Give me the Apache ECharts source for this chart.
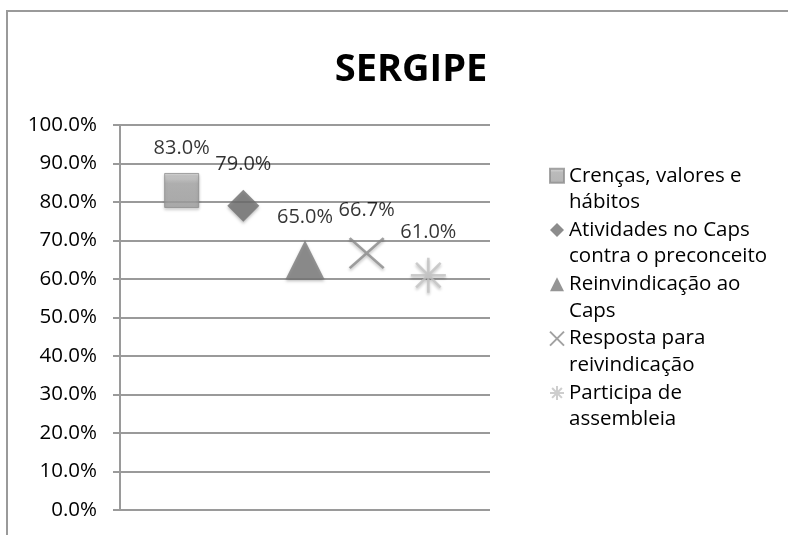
<!DOCTYPE html>
<html><head><meta charset="utf-8">
<script src="https://cdn.jsdelivr.net/npm/echarts@6/dist/echarts.min.js"></script>
<style>html,body{margin:0;padding:0;background:#fff}#c{width:788px;height:535px}</style>
</head><body><div id="c"></div>
<script>
const seriesNames = ["Crenças, valores e\nhábitos", "Atividades no Caps\ncontra o preconceito", "Reinvindicação ao\nCaps", "Resposta para\nreivindicação", "Participa de\nassembleia"];
const seriesX = [1, 2, 3, 4, 5];
const seriesValues = [0.83, 0.79, 0.65, 0.667, 0.61];
const yTicks = [0, 0.1, 0.2, 0.3, 0.4, 0.5, 0.6, 0.7, 0.8, 0.9, 1.0];

const FONT = '"Open Sans", "Liberation Sans", sans-serif';
const xPath = 'path://M0,0 L10,10 M10,0 L0,10';
const starPath = 'path://M5,0 L5,10 M0,5 L10,5 M1.5,1.5 L8.5,8.5 M8.5,1.5 L1.5,8.5';
const shadow = {shadowBlur: 3, shadowColor: 'rgba(0,0,0,0.3)', shadowOffsetY: 2};
const styles = [
  {symbol: 'rect', size: 34, item: Object.assign({color: {type:'linear',x:0,y:0,x2:0,y2:1,colorStops:[{offset:0,color:'#d6d6d6'},{offset:0.3,color:'#a9a9a9'},{offset:1,color:'#a2a2a2'}]}, borderColor:'#8e8e8e', borderWidth:1}, shadow)},
  {symbol: 'diamond', size: 32, item: Object.assign({color: '#6f6f6f'}, shadow)},
  {symbol: 'triangle', size: 39, item: Object.assign({color: '#7b7b7b'}, shadow)},
  {symbol: xPath, size: [34, 30], item: Object.assign({color: 'rgba(0,0,0,0)', borderColor: '#8a8a8a', borderWidth: 2.5}, shadow)},
  {symbol: starPath, size: 35, item: Object.assign({color: 'rgba(0,0,0,0)', borderColor: '#c2c2c2', borderWidth: 2.5}, shadow)}
];

const chart = echarts.init(document.getElementById('c'));
chart.setOption({
  animation: false,
  backgroundColor: '#fff',
  title: {text: 'SERGIPE', left: 406, top: 46, textAlign: 'center',
    textStyle: {fontFamily: FONT, fontWeight: 'bold', fontSize: 38, color: '#000'}},
  graphic: [{type: 'rect', shape: {x: 7, y: 11, width: 900, height: 700}, style: {fill: 'none', stroke: '#9a9a9a', lineWidth: 2}, silent: true}],
  grid: {left: 120, right: 298, top: 125, bottom: 25},
  legend: {
    orient: 'vertical', left: 544, top: 131, itemGap: -25.2, itemWidth: 14, itemHeight: 14,
    data: seriesNames,
    formatter: n => '\n' + n,
    textStyle: {fontFamily: FONT, fontSize: 20.5, color: '#000', lineHeight: 26.5}
  },
  xAxis: {type: 'value', min: 0, max: 6, show: false},
  yAxis: {
    type: 'value', min: 0, max: 1, interval: 0.1,
    axisLine: {show: true, lineStyle: {color: '#9a9a9a', width: 2}},
    axisTick: {show: true, length: 7, lineStyle: {color: '#9a9a9a', width: 2}},
    splitLine: {show: true, lineStyle: {color: '#9a9a9a', width: 2}},
    axisLabel: {margin: 23, fontFamily: FONT, fontSize: 20.5, color: '#000',
      formatter: v => (v * 100).toFixed(1) + '%'}
  },
  series: seriesNames.map((n, i) => {
    const s = styles[i].size;
    const h = Array.isArray(s) ? s[1] : s;
    return {
      name: n, type: 'scatter',
      symbol: styles[i].symbol, symbolSize: s,
      itemStyle: styles[i].item,
      data: [[seriesX[i], seriesValues[i]]],
      label: {show: true, position: 'top', distance: 42 - h / 2 - 10,
        fontFamily: FONT, fontSize: 20, color: '#000',
        formatter: p => (p.value[1] * 100).toFixed(1) + '%'}
    };
  })
});
</script></body></html>
